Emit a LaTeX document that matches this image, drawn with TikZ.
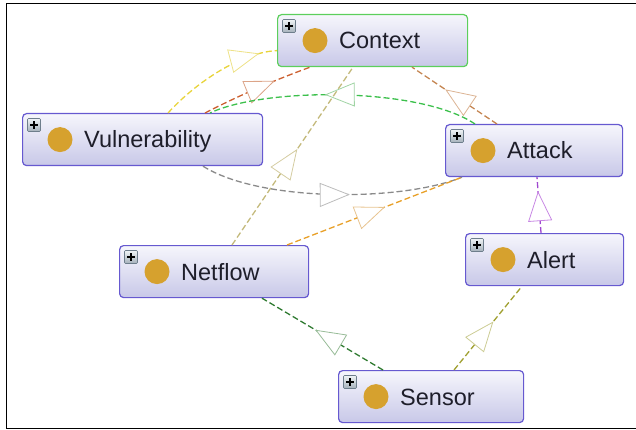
\documentclass[tikz,border=0pt]{standalone}
\usepackage{fontspec}
\setmainfont{Liberation Sans}
\usetikzlibrary{arrows.meta,decorations.markings}
\definecolor{boxborder}{HTML}{6659D0}
\definecolor{ctxborder}{HTML}{5CCF5C}
\definecolor{boxtop}{HTML}{F6F6FC}
\definecolor{boxbot}{HTML}{C8C8E8}
\definecolor{gold}{HTML}{D6A12E}
\definecolor{txt}{HTML}{1E1E2A}
\definecolor{plusborder}{HTML}{6E7E8C}
\definecolor{plustop}{HTML}{F0F4F6}
\definecolor{plusbot}{HTML}{A4B0BA}
% edge colours
\definecolor{cYel}{HTML}{E8D43C}\definecolor{aYel}{HTML}{EEE288}
\definecolor{cRed}{HTML}{CC6030}\definecolor{aRed}{HTML}{DCA488}
\definecolor{cGrn}{HTML}{3CC04C}\definecolor{aGrn}{HTML}{A0D4A4}
\definecolor{cBrn}{HTML}{C48450}\definecolor{aBrn}{HTML}{DCB494}
\definecolor{cTan}{HTML}{C4BA7C}\definecolor{aTan}{HTML}{D4CCA0}
\definecolor{cGry}{HTML}{8A8A8A}\definecolor{aGry}{HTML}{BCBCBC}
\definecolor{cOrg}{HTML}{E8A028}\definecolor{aOrg}{HTML}{E8C490}
\definecolor{cPur}{HTML}{A048D0}\definecolor{aPur}{HTML}{C888E4}
\definecolor{cDgr}{HTML}{2E7A30}\definecolor{aDgr}{HTML}{98BC98}
\definecolor{cOlv}{HTML}{A0A030}\definecolor{aOlv}{HTML}{CCCC94}
\begin{document}
\begin{tikzpicture}[x=1pt,y=-1pt,
  box/.style={draw=boxborder, line width=1.2pt, rounded corners=4pt,
    top color=boxtop, bottom color=boxbot, minimum width=#1,
    minimum height=52pt, anchor=north west, inner sep=0pt},
  plusicon/.style={draw=plusborder, line width=0.6pt, top color=plustop,
    bottom color=plusbot, minimum size=13pt, inner sep=0pt, rounded corners=1pt,
    path picture={
      \draw[line width=1.6pt, black]
        ([xshift=-3.6pt]path picture bounding box.center) --
        ([xshift=3.6pt]path picture bounding box.center);
      \draw[line width=1.6pt, black]
        ([yshift=-3.6pt]path picture bounding box.center) --
        ([yshift=3.6pt]path picture bounding box.center);}},
  golddot/.style={circle, fill=gold, minimum size=25pt, inner sep=0pt},
  lbl/.style={anchor=base west, inner sep=0pt, text=txt,
    font=\fontsize{23.5}{28}\selectfont},
  rel/.style n args={3}{draw=#1, line width=1.3pt, dash pattern=on 6pt off 3pt,
    postaction={decorate},
    decoration={markings, mark=at position #3 with
      {\arrow[#2]{Triangle[open, length=30pt, width=24pt, fill=white, line width=0.8pt]}}}}
]
\useasboundingbox (0,0) rectangle (636,430);
\draw[line width=1.5pt] (640,3.3) -- (6.5,3.3) -- (6.5,428.7) -- (640,428.7);

% nodes
\node[box=190pt, draw=ctxborder] (ctx) at (277,14) {};
\node[box=240pt] (vul) at (22,113) {};
\node[box=177pt] (att) at (445,124) {};
\node[box=158pt] (alt) at (465,233) {};
\node[box=189pt] (net) at (119,245) {};
\node[box=185pt] (sen) at (338,370) {};

\foreach \n/\t in {ctx/Context, vul/Vulnerability, att/Attack, alt/Alert, net/Netflow, sen/Sensor}{
  \node[plusicon] (\n-plus) at ([xshift=12pt,yshift=-12pt]\n.north west) {};
  \node[golddot] (\n-dot) at ([xshift=38pt]\n.west) {};
  \node[lbl] (\n-lbl) at ([xshift=62pt,yshift=-8.4pt]\n.west) {\t};
}

% connectors
\draw[rel={cYel}{aYel}{0.86}] ([xshift=146pt]vul.north west)
  .. controls (200,78) and (245,52) .. ([yshift=-10pt]ctx.west);
\draw[rel={cRed}{aRed}{0.67}] ([xshift=183pt]vul.north west)
  .. controls (240,95) and (275,80) .. ([xshift=33pt]ctx.south west);
\draw[rel={cGrn}{aGrn}{0.57}] ([xshift=30pt]att.north west)
  .. controls (420,87) and (265,87) .. ([xshift=188pt]vul.north west);
\draw[rel={cBrn}{aBrn}{0.61}] ([xshift=52pt]att.north west) -- ([xshift=135pt]ctx.south west);
\draw[rel={cTan}{aTan}{0.54}] ([xshift=113pt]net.north west) -- ([xshift=76pt]ctx.south west);
\draw[rel={cGry}{aGry}{0.57}] ([xshift=181pt]vul.south west)
  .. controls (260,202) and (400,202) .. ([xshift=17pt]att.south west);
\draw[rel={cOrg}{aOrg}{0.56}] ([xshift=168pt]net.north west) -- ([xshift=17pt]att.south west);
\draw[rel={cPur}{aPur}{0.75}] ([xshift=76pt]alt.north west) -- ([xshift=92pt]att.south west);
\draw[rel={cDgr}{aDgr}{0.56}] ([xshift=45pt]sen.north west) -- ([xshift=143pt]net.south west);
\draw[rel={cOlv}{aOlv}{0.58}] ([xshift=116pt]sen.north west) -- ([xshift=57pt]alt.south west);
\end{tikzpicture}
\end{document}
